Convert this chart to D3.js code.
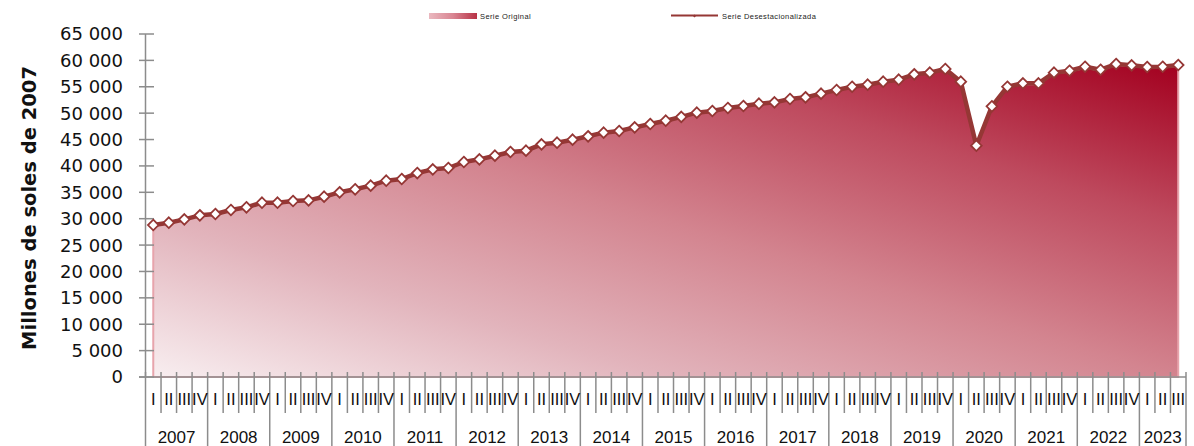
<!DOCTYPE html>
<html><head><meta charset="utf-8">
<script src="https://cdn.jsdelivr.net/npm/d3@7"></script>
<style>
html,body{margin:0;padding:0;background:#fff;}
svg{display:block;}
</style></head>
<body>
<svg id="chart" width="1194" height="446"></svg>
<script>
// ---- data ----
const years = ["2007","2008","2009","2010","2011","2012","2013","2014","2015","2016","2017","2018","2019","2020","2021","2022","2023"];
const quarterNames = ["I","II","III","IV"];
// Serie desestacionalizada (millones de soles de 2007), 2007-I ... 2023-III
const desestacionalizada = [
  28800, 29240, 29880, 30640,
  30890, 31650, 32160, 33030,
  33030, 33350, 33480, 34170,
  35000, 35570, 36260, 37200,
  37520, 38650, 39350, 39610,
  40740, 41250, 41940, 42640,
  42890, 44090, 44400, 44970,
  45610, 46300, 46620, 47310,
  47940, 48570, 49300, 50090,
  50410, 50980, 51350, 51790,
  52050, 52680, 53000, 53690,
  54390, 55010, 55390, 55960,
  56340, 57360, 57670, 58370,
  55960, 43830, 51300, 55010,
  55650, 55650, 57670, 58040,
  58800, 58230, 59310, 59060,
  58740, 58800, 59120
];
// Serie original (área)
const original = [
  28700, 29200, 29850, 30600,
  30850, 31600, 32100, 32950,
  33000, 33300, 33450, 34100,
  34950, 35500, 36200, 37150,
  37450, 38600, 39300, 39550,
  40700, 41200, 41900, 42600,
  42850, 44000, 44350, 44900,
  45550, 46250, 46550, 47250,
  47900, 48500, 49250, 50000,
  50350, 50900, 51300, 51700,
  52000, 52600, 52950, 53600,
  54300, 54950, 55300, 55900,
  56300, 57300, 57600, 58300,
  55900, 43800, 51200, 54900,
  55500, 55500, 57550, 57900,
  58600, 58100, 59150, 58900,
  58600, 58650, 59000
];
const yTicks = [0,5000,10000,15000,20000,25000,30000,35000,40000,45000,50000,55000,60000,65000];

// categories
const categories = [];
years.forEach(y => quarterNames.forEach(q => categories.push({year:y, q:q})));
categories.length = desestacionalizada.length;
const cats = categories.map((c,i)=>i);

const svg = d3.select("#chart");
const lineColor = "#953735";

const x = d3.scaleBand().domain(cats).range([145.5, 1186]).padding(0);
const y = d3.scaleLinear().domain([0,65000]).range([377, 34]);
const cx = i => x(i) + x.bandwidth()/2;

// gradient
const defs = svg.append("defs");
const grad = defs.append("linearGradient").attr("id","areaGrad")
  .attr("x1",0).attr("y1",1).attr("x2",1).attr("y2",0);
[[0,"#f8eef0"],[0.25,"#e2b4bc"],[0.5,"#d3848f"],[0.75,"#be4a5e"],[1,"#a3001f"]]
  .forEach(s=>grad.append("stop").attr("offset",s[0]).attr("stop-color",s[1]));
const lgrad = defs.append("linearGradient").attr("id","legGrad")
  .attr("x1",0).attr("y1",0).attr("x2",1).attr("y2",0);
[[0,"#eab8bf"],[0.5,"#d98592"],[1,"#b83246"]]
  .forEach(s=>lgrad.append("stop").attr("offset",s[0]).attr("stop-color",s[1]));

const curve = d3.curveLinear;

// area
const area = d3.area().x((d,i)=>cx(i)).y0(y(0)).y1(d=>y(d)).curve(curve);
svg.append("path").datum(original).attr("d",area)
  .attr("fill","url(#areaGrad)").attr("stroke","#e7a4ac").attr("stroke-width",2);

// axes
const fmt = d3.formatLocale({thousands:" ",grouping:[3],decimal:",",currency:["",""]}).format(",");
const axisColor = "#8c8c8c";
const gy = svg.append("g");
gy.append("line").attr("x1",145.5).attr("x2",145.5).attr("y1",y(65000)).attr("y2",y(0))
  .attr("stroke",axisColor).attr("stroke-width",1.5);
gy.selectAll("line.t").data(yTicks).join("line").attr("class","t")
  .attr("x1",139).attr("x2",154).attr("y1",d=>y(d)).attr("y2",d=>y(d))
  .attr("stroke",axisColor).attr("stroke-width",1.5);
gy.selectAll("text").data(yTicks).join("text")
  .attr("x",123).attr("y",d=>y(d)).attr("dy","0.36em").attr("text-anchor","end")
  .attr("font-family","DejaVu Sans").attr("font-size",18).attr("fill","#111")
  .text(d=>fmt(d));

// x axis
const gx = svg.append("g");
gx.append("line").attr("x1",139).attr("x2",1186).attr("y1",y(0)).attr("y2",y(0))
  .attr("stroke",axisColor).attr("stroke-width",1.5);
const bounds = d3.range(cats.length+1);
gx.selectAll("line.b").data(bounds).join("line").attr("class","b")
  .attr("x1",i=> i<cats.length ? x(i) : 1186).attr("x2",i=> i<cats.length ? x(i) : 1186)
  .attr("y1",372).attr("y2",i=> (i%4===0 || i===cats.length) ? 446 : 413)
  .attr("stroke",axisColor).attr("stroke-width",1.5);
gx.selectAll("text.q").data(categories).join("text").attr("class","q")
  .attr("x",(d,i)=>cx(i)).attr("y",405).attr("text-anchor","middle")
  .attr("font-family","Liberation Sans").attr("font-size",16.5).attr("fill","#111")
  .text(d=>d.q);
gx.selectAll("text.yr").data(years).join("text").attr("class","yr")
  .attr("x",(d,k)=>{const a=x(k*4); const b = (k*4+4<cats.length)? x(k*4+4) : 1186; return (a+b)/2;})
  .attr("y",443).attr("text-anchor","middle")
  .attr("font-family","Liberation Sans").attr("font-size",17).attr("fill","#111")
  .text(d=>d);

// y title
svg.append("text").attr("transform","translate(36,208) rotate(-90)")
  .attr("text-anchor","middle").attr("font-family","DejaVu Sans").attr("font-weight","bold")
  .attr("font-size",19.5).attr("fill","#111").text("Millones de soles de 2007");

// line
const line = d3.line().x((d,i)=>cx(i)).y(d=>y(d)).curve(curve);
svg.append("path").datum(desestacionalizada).attr("d",line)
  .attr("fill","none").attr("stroke",lineColor).attr("stroke-width",4.5).attr("stroke-linejoin","round");
const diamond = d3.symbol().type(d3.symbolDiamond2).size(72);
svg.selectAll("path.m").data(desestacionalizada).join("path").attr("class","m")
  .attr("transform",(d,i)=>`translate(${cx(i)},${y(d)})`).attr("d",diamond)
  .attr("fill","#fff").attr("stroke",lineColor).attr("stroke-width",1.8);

// legend
const lg = svg.append("g");
lg.append("rect").attr("x",429).attr("y",13).attr("width",48).attr("height",6).attr("fill","url(#legGrad)");
lg.append("text").attr("x",480).attr("y",18.5).attr("font-family","Liberation Sans").attr("font-size",7.5)
  .attr("letter-spacing",0.4).attr("fill","#222").text("Serie Original");
lg.append("line").attr("x1",671).attr("x2",718).attr("y1",15.5).attr("y2",15.5).attr("stroke",lineColor).attr("stroke-width",2);
lg.append("path").attr("transform","translate(694.5,16)").attr("d",d3.symbol().type(d3.symbolDiamond2).size(6)).attr("fill",lineColor);
lg.append("text").attr("x",722).attr("y",18.5).attr("font-family","Liberation Sans").attr("font-size",7.5)
  .attr("letter-spacing",0.4).attr("fill","#222").text("Serie Desestacionalizada");
</script>
</body></html>
